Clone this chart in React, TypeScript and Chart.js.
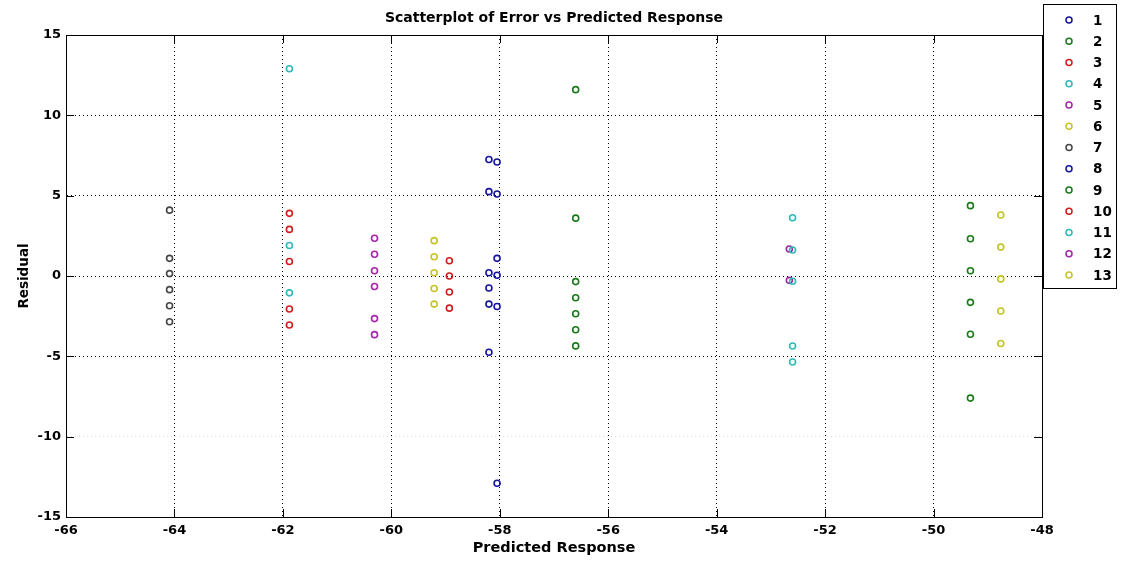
import React, { useEffect, useRef } from 'react';
import { Chart, registerables } from 'chart.js';

Chart.register(...registerables);

// ---- Data ----
const chartTitle = 'Scatterplot of Error vs Predicted Response';
const xAxisTitle = 'Predicted Response';
const yAxisTitle = 'Residual';

const seriesNames = ['1', '2', '3', '4', '5', '6', '7', '8', '9', '10', '11', '12', '13'];
const seriesColors = [
  '#1414a0', '#1a7a1a', '#d01c1c', '#2eb8b8', '#a424a8', '#c4c426', '#444444',
  '#1414a0', '#1a7a1a', '#d01c1c', '#2eb8b8', '#a424a8', '#c4c426',
];
// predicted response (x) of each group
const seriesX = [-58.2, -56.6, -61.88, -61.88, -60.31, -59.21, -64.09, -58.05, -49.32, -58.93, -52.6, -52.66, -48.76];

const residuals1 = [7.25, 5.25, 0.2, -0.75, -1.75, -4.75];
const residuals2 = [11.6, 3.6, -0.35, -1.35, -2.35, -3.35, -4.35];
const residuals3 = [3.9, 2.9, 0.9, -2.05, -3.05];
const residuals4 = [12.9, 1.9, -1.05];
const residuals5 = [2.35, 1.35, 0.33, -0.65, -2.65, -3.65];
const residuals6 = [2.2, 1.2, 0.2, -0.78, -1.75];
const residuals7 = [4.1, 1.1, 0.15, -0.85, -1.85, -2.85];
const residuals8 = [7.1, 5.1, 1.1, 0.05, -1.9, -12.9];
const residuals9 = [4.38, 2.32, 0.33, -1.64, -3.63, -7.6];
const residuals10 = [0.95, 0.0, -1.0, -2.0];
const residuals11 = [3.63, 1.62, -0.33, -4.36, -5.35];
const residuals12 = [1.68, -0.27];
const residuals13 = [3.8, 1.8, -0.18, -2.18, -4.2];

const allResiduals = [
  residuals1, residuals2, residuals3, residuals4, residuals5, residuals6, residuals7,
  residuals8, residuals9, residuals10, residuals11, residuals12, residuals13,
];

const xMin = -66;
const xMax = -48;
const xStep = 2;
const yMin = -15;
const yMax = 15;
const yStep = 5;

const FONT = '"DejaVu Sans", sans-serif';

const framePlugin = {
  id: 'matlabFrame',
  afterDraw(chart: any) {
    const { ctx, chartArea } = chart;
    const { left, right, top, bottom } = chartArea;
    const xs = chart.scales.x;
    const ys = chart.scales.y;
    ctx.save();
    // box
    ctx.strokeStyle = '#000';
    ctx.lineWidth = 1;
    ctx.setLineDash([]);
    ctx.strokeRect(Math.round(left) + 0.5, Math.round(top) + 0.5, Math.round(right - left), Math.round(bottom - top));
    // inward tick marks
    const tl = 8;
    ctx.beginPath();
    xs.ticks.forEach((t: any) => {
      const px = Math.round(xs.getPixelForValue(t.value)) + 0.5;
      ctx.moveTo(px, bottom);
      ctx.lineTo(px, bottom - tl);
      ctx.moveTo(px, top);
      ctx.lineTo(px, top + tl);
    });
    ys.ticks.forEach((t: any) => {
      const py = Math.round(ys.getPixelForValue(t.value)) + 0.5;
      ctx.moveTo(left, py);
      ctx.lineTo(left + tl, py);
      ctx.moveTo(right, py);
      ctx.lineTo(right - tl, py);
    });
    ctx.stroke();

    // title
    ctx.fillStyle = '#000';
    ctx.font = `bold 14px ${FONT}`;
    ctx.textAlign = 'center';
    ctx.textBaseline = 'middle';
    ctx.fillText(chartTitle, (left + right) / 2, 18);

    // legend
    const lx = 1043;
    const ly = 4;
    const lw = 73;
    const lh = 284;
    ctx.fillStyle = '#fff';
    ctx.fillRect(lx, ly, lw, lh);
    ctx.strokeStyle = '#000';
    ctx.strokeRect(lx + 0.5, ly + 0.5, lw, lh);
    chart.data.datasets.forEach((ds: any, i: number) => {
      const cy = 20 + i * 21.25;
      ctx.beginPath();
      ctx.strokeStyle = ds.borderColor;
      ctx.lineWidth = 1.5;
      ctx.arc(1069, cy, 3, 0, Math.PI * 2);
      ctx.stroke();
      ctx.fillStyle = '#000';
      ctx.font = `bold 13.5px ${FONT}`;
      ctx.textAlign = 'left';
      ctx.textBaseline = 'middle';
      ctx.fillText(ds.label, 1093, cy + 1);
    });
    ctx.restore();
  },
};

export default function App() {
  const canvasRef = useRef<HTMLCanvasElement | null>(null);

  useEffect(() => {
    if (!canvasRef.current) return;
    const datasets = seriesNames.map((name, i) => ({
      label: name,
      data: allResiduals[i].map((r) => ({ x: seriesX[i], y: r })),
      borderColor: seriesColors[i],
      backgroundColor: 'rgba(0,0,0,0)',
      pointRadius: 3,
      pointBorderWidth: 1.6,
      pointHoverRadius: 3,
      showLine: false,
    }));

    const chart = new Chart(canvasRef.current, {
      type: 'scatter',
      data: { datasets },
      options: {
        responsive: false,
        animation: false,
        events: [],
        layout: { padding: { top: 35, right: 88, left: 0, bottom: 0 } },
        plugins: {
          legend: { display: false },
          title: { display: false },
          tooltip: { enabled: false },
        },
        scales: {
          x: {
            type: 'linear',
            min: xMin,
            max: xMax,
            ticks: {
              stepSize: xStep,
              color: '#000',
              font: { family: FONT, size: 13, weight: 'bold' },
              padding: 6,
              maxRotation: 0,
            },
            grid: {
              color: '#000',
              lineWidth: 1,
              drawTicks: false,
            },
            border: { display: true, color: '#000', dash: [1, 3] },
            title: {
              display: true,
              text: xAxisTitle,
              color: '#000',
              font: { family: FONT, size: 14.5, weight: 'bold' },
              padding: { top: 0, bottom: 7 },
            },
            afterFit: (scale: any) => {
              scale.height = 47;
            },
          },
          y: {
            type: 'linear',
            min: yMin,
            max: yMax,
            ticks: {
              stepSize: yStep,
              color: '#000',
              font: { family: FONT, size: 13, weight: 'bold' },
              padding: 5,
            },
            grid: {
              color: (c: any) => (c.tick && c.tick.value === -10 ? '#dcdcdc' : '#000'),
              lineWidth: 1,
              drawTicks: false,
            },
            border: { display: true, color: '#000', dash: [1, 3] },
            title: {
              display: true,
              text: yAxisTitle,
              color: '#000',
              font: { family: FONT, size: 13.5, weight: 'bold' },
              padding: { top: 16, bottom: 0 },
            },
            afterFit: (scale: any) => {
              scale.width = 66;
            },
          },
        },
      },
      plugins: [framePlugin],
    } as any);

    return () => chart.destroy();
  }, []);

  return (
    <div style={{ position: 'absolute', left: 0, top: 0, width: 1130, height: 564, background: '#fff' }}>
      <canvas ref={canvasRef} width={1130} height={564} />
    </div>
  );
}
